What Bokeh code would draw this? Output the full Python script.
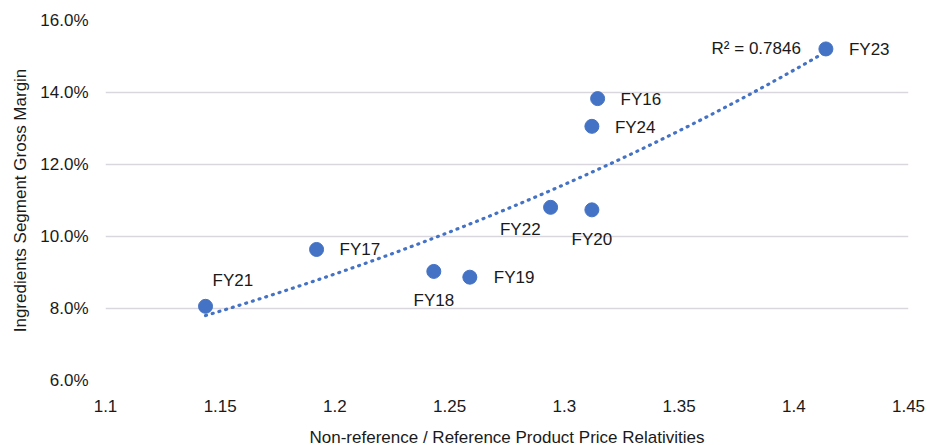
import numpy as np
from bokeh.plotting import figure
from bokeh.models import Range1d, FixedTicker, NumeralTickFormatter
from bokeh.core.properties import value
from bokeh.embed import file_html
from bokeh.resources import INLINE

# ---- data ----
labels = ["FY16", "FY17", "FY18", "FY19", "FY20", "FY21", "FY22", "FY23", "FY24"]
price_rel = [1.3145, 1.192, 1.2431, 1.2588, 1.312, 1.1436, 1.294, 1.414, 1.312]
gross_margin = [0.1383, 0.0964, 0.0903, 0.0887, 0.1074, 0.0806, 0.1081, 0.1521, 0.1306]
r2_text = "R² = 0.7846"
x_ticks = [1.1, 1.15, 1.2, 1.25, 1.3, 1.35, 1.4, 1.45]
y_ticks = [0.06, 0.08, 0.10, 0.12, 0.14, 0.16]

# ---- label placement (style) ----
label_style = {
    "FY16": ("left", 23, 1),
    "FY17": ("left", 23, 0),
    "FY18": ("center", 0, 29),
    "FY19": ("left", 24, 0),
    "FY20": ("center", 0, 30),
    "FY21": ("left", 7, -26),
    "FY22": ("right", -10, 22),
    "FY23": ("left", 23, 1),
    "FY24": ("left", 23, 1),
}

FONT = "Liberation Sans"
FS = "17px"
BLUE = "#4472C4"
TXT = "#1a1a1a"

p = figure(frame_width=803, frame_height=360, output_backend="svg", toolbar_location=None,
           x_range=Range1d(1.1, 1.45), y_range=Range1d(0.06, 0.16),
           min_border_left=105, min_border_right=20, min_border_top=20, min_border_bottom=0)
p.outline_line_color = None
p.background_fill_color = "white"

# axes
for ax in (p.xaxis[0], p.yaxis[0]):
    ax.axis_line_color = None
    ax.major_tick_line_color = None
    ax.minor_tick_line_color = None
    ax.major_tick_in = 0
    ax.major_tick_out = 0
    ax.major_label_text_font = FONT
    ax.major_label_text_font_size = FS
    ax.major_label_text_color = TXT
    ax.axis_label_text_font = FONT
    ax.axis_label_text_font_size = FS
    ax.axis_label_text_font_style = "normal"
    ax.axis_label_text_color = TXT

p.xaxis.ticker = FixedTicker(ticks=x_ticks)
p.xaxis.formatter = NumeralTickFormatter(format="0.[00]")
p.xaxis.major_label_standoff = 19
p.xaxis.axis_label = "Non-reference / Reference Product Price Relativities"
p.xaxis.axis_label_standoff = 13

p.yaxis.ticker = FixedTicker(ticks=y_ticks)
p.yaxis.formatter = NumeralTickFormatter(format="0.0%")
p.yaxis.major_label_standoff = 17
p.yaxis.axis_label = "Ingredients Segment Gross Margin"
p.yaxis.axis_label_standoff = 7

p.xgrid.grid_line_color = None
p.ygrid.ticker = FixedTicker(ticks=[t for t in y_ticks if t > y_ticks[0]])
p.ygrid.grid_line_color = "#dad6dd"
p.ygrid.grid_line_width = 1.3

# exponential trendline (fit of the data)
xa = np.array(price_rel)
ya = np.array(gross_margin)
b, a = np.polyfit(xa, np.log(ya), 1)
xt = np.linspace(xa.min(), xa.max(), 200)
yt = np.exp(a + b * xt)
p.line(xt, yt, line_color=BLUE, line_width=3.2, line_dash="1 6", line_cap="round")

# points
p.scatter(price_rel, gross_margin, size=14, fill_color=BLUE, line_color=BLUE)

# labels
for lab, xv, yv in zip(labels, price_rel, gross_margin):
    al, dx, dy = label_style[lab]
    p.text([xv], [yv], text=[lab], text_align=al, text_baseline="middle",
           x_offset=dx, y_offset=dy, text_font=value(FONT), text_font_size=FS,
           text_color=TXT)

# R² label near end of trendline
p.text([xt[-1]], [yt[-1]], text=[r2_text], text_align="right", text_baseline="middle",
       x_offset=-25, y_offset=-3, text_font=value(FONT), text_font_size=FS,
       text_color=TXT)

open("out.html", "w").write(file_html(p, INLINE))
